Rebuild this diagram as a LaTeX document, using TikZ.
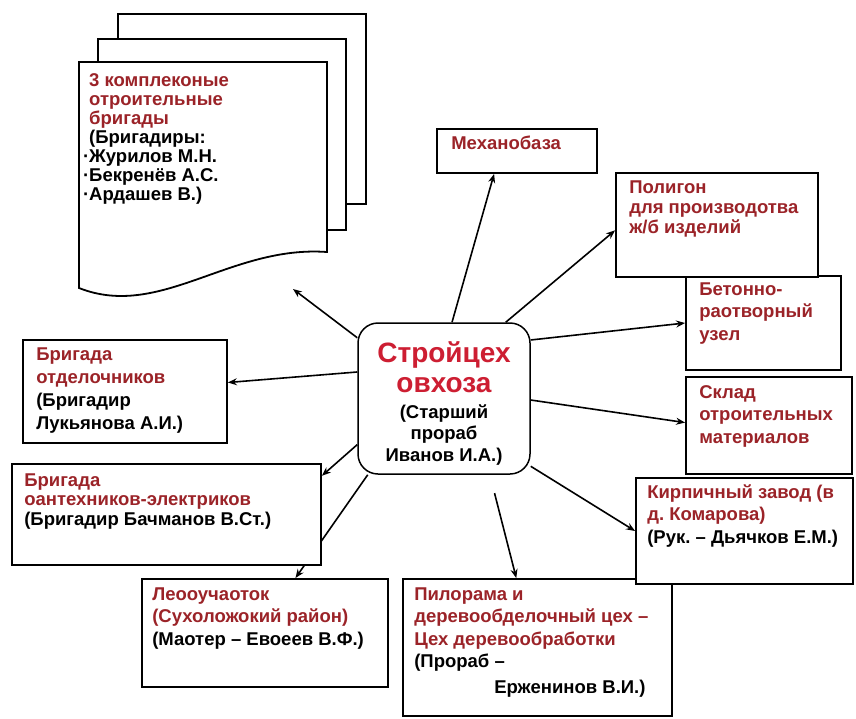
\documentclass[tikz,border=0pt]{standalone}
\usepackage{fontspec}
\setmainfont{Liberation Sans}
\usetikzlibrary{arrows.meta,backgrounds}
\definecolor{ttlred}{RGB}{155,35,40}
\definecolor{hubred}{RGB}{205,30,50}
\newcommand{\nm}[1]{\textcolor{black}{#1}}
\frenchspacing

\begin{document}
\begin{tikzpicture}[x=1pt,y=-1pt,
    box/.style={draw,line width=1.8pt,fill=white,inner sep=0pt},
    txt/.style={anchor=north west,inner sep=0pt,align=left,text=ttlred,
        font=\bfseries\fontsize{18.5}{22.5}\selectfont},
    lh/.style={font=\bfseries\fontsize{18.5}{#1}\selectfont},
    hub/.style={draw,line width=1.5pt,fill=white,rounded corners=20pt,inner sep=0pt},
    link/.style={line width=1.6pt,-{Stealth[length=9pt,width=7pt]}}]
    \useasboundingbox (0,0) rectangle (856,718);

    % stack of sheets
    \draw[line width=1.8pt,fill=white] (118,14) rectangle (366,204);
    \draw[line width=1.8pt,fill=white] (98,39) rectangle (346,230);
    \draw[line width=1.8pt,fill=white] (79,62) -- (327,62) -- (327,252)
        .. controls (230,245) and (160,320) .. (79,288) -- cycle;
    \node[txt,lh=19pt] (docs-t) at (89,73) {3 комплеконые\\отроительные\\бригады\\%
        \nm{(Бригадиры:}\\\nm{\llap{·}Журилов М.Н.}\\\nm{\llap{·}Бекренёв А.С.}\\%
        \nm{\llap{·}Ардашев В.)}};
    \coordinate (docs) at (293,289);

    \node[hub,minimum width=172pt,minimum height=151pt] (cz) at (444,398.5) {};
    \node[align=center,inner sep=0pt,font=\bfseries\fontsize{18.5}{21.5}\selectfont]
        (cz-t) at (444,403)
        {\textcolor{hubred}{\fontsize{28}{30}\selectfont Стройцех}\\[9pt]%
         \textcolor{hubred}{\fontsize{28}{30}\selectfont овхоза}\\[4pt]%
         (Старший\\прораб\\Иванов И.А.)};

    \node[box,minimum width=160pt,minimum height=44pt] (mech) at (517,151) {};
    \node[box,minimum width=155pt,minimum height=94pt] (beton) at (763.5,323) {};
    \node[box,minimum width=202pt,minimum height=104pt] (polig) at (717,225) {};
    \node[box,minimum width=166pt,minimum height=97pt] (sklad) at (769,425.5) {};
    \node[box,minimum width=269pt,minimum height=137pt] (pilo) at (537.5,647.5) {};
    \node[box,minimum width=217pt,minimum height=106pt] (kirp) at (744.5,531) {};
    \node[box,minimum width=246pt,minimum height=108pt] (lesu) at (265,633) {};
    \node[box,minimum width=309pt,minimum height=101pt] (sant) at (166.5,514.5) {};
    \node[box,minimum width=204pt,minimum height=103pt] (otdel) at (125,391.5) {};

    \node[txt] (mech-t) at ([shift={(15,8)}]mech.north west) {Механобаза};
    \node[txt,lh=20pt] (polig-t) at ([shift={(14,8)}]polig.north west)
        {Полигон\\для производотва\\ж/б изделий};
    \node[txt] (beton-t) at ([shift={(14,7)}]beton.north west)
        {Бетонно-\\раотворный\\узел};
    \node[txt] (sklad-t) at ([shift={(14,9)}]sklad.north west)
        {Склад\\отроительных\\материалов};
    \node[txt] (kirp-t) at ([shift={(12,7)}]kirp.north west)
        {Кирпичный завод (в\\д. Комарова)\\\nm{(Рук. – Дьячков Е.М.)}};
    \node[txt] (pilo-t) at ([shift={(12,9)}]pilo.north west)
        {Пилорама и\\деревообделочный цех –\\Цех деревообработки\\%
        \nm{(Прораб –}\\[3pt]\nm{\hspace*{80pt}Ерженинов В.И.)}};
    \node[txt] (lesu-t) at ([shift={(11,9)}]lesu.north west)
        {Леооучаоток\\(Сухоложокий район)\\\nm{(Маотер – Евоеев В.Ф.)}};
    \node[txt,lh=19.5pt] (sant-t) at ([shift={(13,10)}]sant.north west)
        {Бригада\\оантехников-электриков\\\nm{(Бригадир Бачманов В.Ст.)}};
    \node[txt,lh=23pt] (otdel-t) at ([shift={(14,8)}]otdel.north west)
        {Бригада\\отделочников\\\nm{(Бригадир}\\\nm{Лукьянова А.И.)}};

    \begin{scope}[on background layer]
        \draw[link] (cz.145) -- (docs);
        \draw[link] (cz.84) -- (mech.225);
        \draw[link] (cz.51) -- (polig.183);
        \draw[link] (cz.34) -- (beton.west);
        \draw[link] (cz.-1) -- (sklad.178);
        \draw[link] (cz.-38) -- (kirp.west);
        \draw[link,shorten <=19pt] (cz.-59) -- (pilo.107);
        \draw[link] (cz.225) -- (lesu.61);
        \draw[link] (cz.208) -- (sant.14);
        \draw[link] (cz.163) -- (otdel.5);
    \end{scope}
\end{tikzpicture}
\end{document}
